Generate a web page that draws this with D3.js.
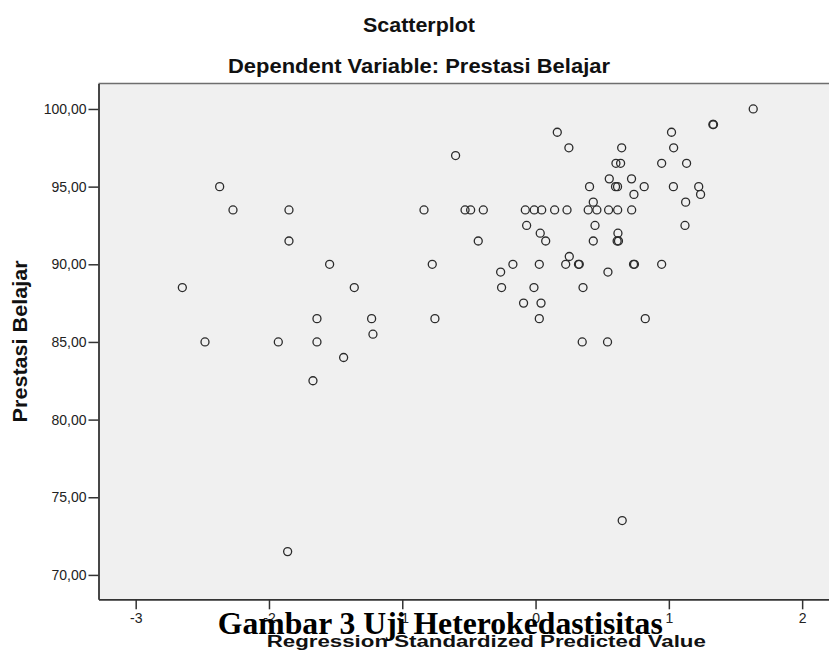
<!DOCTYPE html>
<html>
<head>
<meta charset="utf-8">
<script src="https://cdn.jsdelivr.net/npm/d3@7"></script>
<style>
  html, body { margin: 0; padding: 0; background: #ffffff; }
  svg { display: block; }
</style>
</head>
<body>
<svg id="chart" width="829" height="660"></svg>
<script>
// ---- data ----
const predicted = [
  1.633,
  1.33, 1.335,
  0.163, 1.02,
  0.25, 0.646, 1.036,
  -0.6,
  0.603, 0.638, 0.946, 1.133,
  0.553, 0.72,
  -2.37, 0.405, 0.6, 0.615, 0.815, 1.034, 1.224,
  0.738, 1.238,
  0.433, 1.126,
  -2.27, -1.85, -0.837, -0.529, -0.487, -0.392, -0.077, -0.01, 0.046, 0.143, 0.236, 0.395, 0.46, 0.548, 0.616, 0.721,
  -0.067, 0.446, 1.121,
  0.035, 0.618,
  -1.85, -0.43, 0.076, 0.433, 0.612, 0.622,
  0.253,
  -1.545, -0.775, -0.17, 0.028, 0.226, 0.322, 0.328, 0.735, 0.742, 0.946,
  -0.262, 0.543,
  -2.65, -1.36, -0.255, -0.012, 0.356,
  -0.09, 0.041,
  -1.64, -1.23, -0.755, 0.028, 0.823,
  -1.22,
  -2.48, -1.93, -1.64, 0.35, 0.54,
  -1.44,
  -1.67,
  0.65,
  -1.86
];
const prestasi = [
  100,
  99, 99,
  98.5, 98.5,
  97.5, 97.5, 97.5,
  97,
  96.5, 96.5, 96.5, 96.5,
  95.5, 95.5,
  95, 95, 95, 95, 95, 95, 95,
  94.5, 94.5,
  94, 94,
  93.5, 93.5, 93.5, 93.5, 93.5, 93.5, 93.5, 93.5, 93.5, 93.5, 93.5, 93.5, 93.5, 93.5, 93.5, 93.5,
  92.5, 92.5, 92.5,
  92, 92,
  91.5, 91.5, 91.5, 91.5, 91.5, 91.5,
  90.5,
  90, 90, 90, 90, 90, 90, 90, 90, 90, 90,
  89.5, 89.5,
  88.5, 88.5, 88.5, 88.5, 88.5,
  87.5, 87.5,
  86.5, 86.5, 86.5, 86.5, 86.5,
  85.5,
  85, 85, 85, 85, 85,
  84,
  82.5,
  73.5,
  71.5
];
const xTicks = [-3, -2, -1, 0, 1, 2];
const xTickLabels = ["-3", "-2", "-1", "0", "1", "2"];
const yTicks = [70, 75, 80, 85, 90, 95, 100];
const yTickLabels = ["70,00", "75,00", "80,00", "85,00", "90,00", "95,00", "100,00"];
const xDomain = [-3.279, 2.284];
const yDomain = [68.43, 101.64];

const titleText = "Scatterplot";
const subtitleText = "Dependent Variable: Prestasi Belajar";
const xLabel = "Regression Standardized Predicted Value";
const yLabel = "Prestasi Belajar";
const captionText = "Gambar 3 Uji Heterokedastisitas";

(function () {
  // ---- layout ----
  const pLeft = 98.5, pRight = 840, pTop = 83.5, pBottom = 599.3;
  const svg = d3.select("#chart");
  const sans = "'Liberation Sans', Arial, 'DejaVu Sans', sans-serif";

  const x = d3.scaleLinear().domain(xDomain).range([pLeft, pRight]);
  const y = d3.scaleLinear().domain(yDomain).range([pBottom, pTop]);

  // plot background
  svg.append("rect")
    .attr("x", pLeft).attr("y", pTop)
    .attr("width", pRight - pLeft).attr("height", pBottom - pTop)
    .attr("fill", "#f0f0f0");

  // top border
  svg.append("line")
    .attr("x1", pLeft).attr("x2", 829)
    .attr("y1", pTop).attr("y2", pTop)
    .attr("stroke", "#6e6e6e").attr("stroke-width", 1.5);

  // points
  svg.append("g").selectAll("circle")
    .data(predicted.map((p, i) => [p, prestasi[i]]))
    .join("circle")
    .attr("cx", d => x(d[0]))
    .attr("cy", d => y(d[1]))
    .attr("r", 4)
    .attr("fill", "none")
    .attr("stroke", "#2b2b2b")
    .attr("stroke-width", 1.3);

  // y axis
  const gy = svg.append("g")
    .attr("transform", `translate(${pLeft},0)`)
    .call(d3.axisLeft(y).tickValues(yTicks)
      .tickFormat((d, i) => yTickLabels[i])
      .tickSize(10).tickSizeOuter(0).tickPadding(2));
  gy.selectAll("text").attr("font-family", sans).attr("font-size", 14).attr("fill", "#222");
  gy.selectAll("line").attr("stroke", "#333").attr("stroke-width", 1.5);
  gy.select(".domain").attr("stroke", "#333").attr("stroke-width", 1.8);

  // x axis
  const gx = svg.append("g")
    .attr("transform", `translate(0,${pBottom})`)
    .call(d3.axisBottom(x).tickValues(xTicks)
      .tickFormat((d, i) => xTickLabels[i])
      .tickSize(10).tickSizeOuter(0).tickPadding(4));
  gx.selectAll("text").attr("font-family", sans).attr("font-size", 14).attr("fill", "#222");
  gx.selectAll("line").attr("stroke", "#333").attr("stroke-width", 1.5);
  gx.select(".domain").attr("stroke", "#333").attr("stroke-width", 1.8);

  // titles
  svg.append("text")
    .attr("x", 419).attr("y", 31.5)
    .attr("text-anchor", "middle")
    .attr("font-family", sans).attr("font-weight", "bold").attr("font-size", 20)
    .attr("textLength", 112).attr("lengthAdjust", "spacingAndGlyphs")
    .attr("fill", "#111")
    .text(titleText);

  svg.append("text")
    .attr("x", 419).attr("y", 73)
    .attr("text-anchor", "middle")
    .attr("font-family", sans).attr("font-weight", "bold").attr("font-size", 20)
    .attr("textLength", 382).attr("lengthAdjust", "spacingAndGlyphs")
    .attr("fill", "#111")
    .text(subtitleText);

  // y label
  svg.append("text")
    .attr("transform", `translate(27,${(pTop + pBottom) / 2}) rotate(-90)`)
    .attr("text-anchor", "middle")
    .attr("font-family", sans).attr("font-weight", "bold").attr("font-size", 20)
    .attr("textLength", 162).attr("lengthAdjust", "spacingAndGlyphs")
    .attr("fill", "#111")
    .text(yLabel);

  // x label
  svg.append("text")
    .attr("x", 486.3).attr("y", 646.5)
    .attr("text-anchor", "middle")
    .attr("font-family", sans).attr("font-weight", "bold").attr("font-size", 16)
    .attr("textLength", 439).attr("lengthAdjust", "spacingAndGlyphs")
    .attr("fill", "#111")
    .text(xLabel);

  // caption overlay (drawn on top of the tick labels, as in the reference)
  svg.append("text")
    .attr("x", 440.3).attr("y", 634)
    .attr("text-anchor", "middle")
    .attr("font-family", "'Liberation Serif', 'Times New Roman', serif")
    .attr("font-weight", "bold").attr("font-size", 31.5)
    .attr("textLength", 445).attr("lengthAdjust", "spacingAndGlyphs")
    .attr("fill", "#000")
    .text(captionText);
})();
</script>
</body>
</html>
